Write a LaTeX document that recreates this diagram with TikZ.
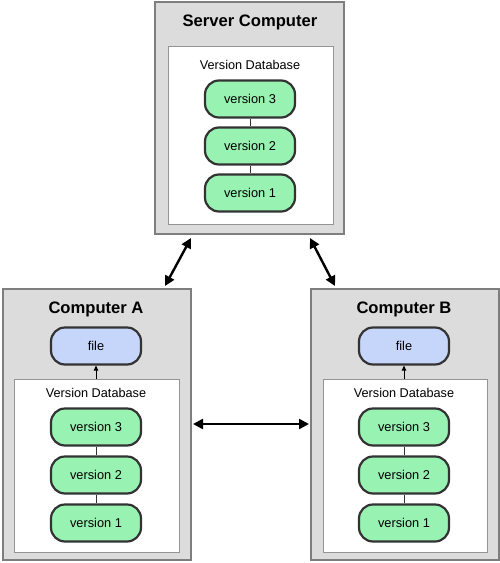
\documentclass[tikz,border=0pt]{standalone}
\usepackage{fontspec}
\setmainfont{Liberation Sans}
\usetikzlibrary{arrows.meta}
\definecolor{outerfill}{HTML}{DCDCDC}
\definecolor{outerline}{HTML}{7E7E7E}
\definecolor{innerline}{HTML}{949494}
\definecolor{pillgreen}{HTML}{98F2B2}
\definecolor{pillblue}{HTML}{C6D6FA}
\definecolor{pillline}{HTML}{333333}
\tikzset{
  outerbox/.style={draw=outerline, fill=outerfill, line width=1.3pt},
  innerbox/.style={draw=innerline, fill=white, line width=0.8pt},
  pill/.style={draw=pillline, line width=2.2pt, rounded corners=14pt, minimum width=90pt, minimum height=37pt, inner sep=0pt, font=\fontsize{12.8}{15}\selectfont},
  verpill/.style={pill, fill=pillgreen},
  filepill/.style={pill, fill=pillblue},
  title/.style={font=\fontsize{16.6}{19}\selectfont\bfseries},
  dblabel/.style={font=\fontsize{12.7}{15}\selectfont},
  link/.style={draw=pillline, line width=0.8pt},
  bigarrow/.style={line width=2.4pt, {Triangle[length=10pt,width=10pt]}-{Triangle[length=10pt,width=10pt]}},
  smallarrow/.style={line width=0.8pt, -{Triangle[length=5pt,width=4.5pt]}}
}
\begin{document}
\begin{tikzpicture}[x=1pt,y=-1pt]
\useasboundingbox (0,0) rectangle (500,563);
% Server
\node[outerbox, minimum width=189pt, minimum height=232pt, inner sep=0pt] (srv) at (249.5,118) {};
\node[innerbox, minimum width=165pt, minimum height=178pt, inner sep=0pt] (srvdb) at (250.5,135) {};
\node[title] (srvt) at (250,22) {Server Computer};
\node[dblabel] (srvdbl) at (250,65) {Version Database};
\node[verpill] (s3) at (250,99) {version 3};
\node[verpill] (s2) at (250,146) {version 2};
\node[verpill] (s1) at (250,193) {version 1};
\draw[link] (s3) -- (s2);
\draw[link] (s2) -- (s1);
% Computer A
\node[outerbox, minimum width=188pt, minimum height=271pt, inner sep=0pt] (ca) at (97,424.5) {};
\node[innerbox, minimum width=165pt, minimum height=173pt, inner sep=0pt] (cadb) at (96.5,465.5) {};
\node[title] (cat) at (96,309) {Computer A};
\node[filepill] (caf) at (96,346) {file};
\node[dblabel] (cadbl) at (96,393) {Version Database};
\node[verpill] (a3) at (96,427) {version 3};
\node[verpill] (a2) at (96,475) {version 2};
\node[verpill] (a1) at (96,523) {version 1};
\draw[link] (a3) -- (a2);
\draw[link] (a2) -- (a1);
\draw[smallarrow] (cadb.north -| caf.south) -- (caf.south);
% Computer B
\node[outerbox, minimum width=188pt, minimum height=271pt, inner sep=0pt] (cb) at (405,424.5) {};
\node[innerbox, minimum width=164pt, minimum height=173pt, inner sep=0pt] (cbdb) at (405,465.5) {};
\node[title] (cbt) at (404,309) {Computer B};
\node[filepill] (cbf) at (404,346) {file};
\node[dblabel] (cbdbl) at (404,393) {Version Database};
\node[verpill] (b3) at (404,427) {version 3};
\node[verpill] (b2) at (404,475) {version 2};
\node[verpill] (b1) at (404,523) {version 1};
\draw[link] (b3) -- (b2);
\draw[link] (b2) -- (b1);
\draw[smallarrow] (cbdb.north -| cbf.south) -- (cbf.south);
% Arrows
\coordinate (sa1) at (191,238);
\coordinate (sa2) at (165,286);
\coordinate (sb1) at (310,238);
\coordinate (sb2) at (335,286);
\coordinate (h1) at (193,424);
\coordinate (h2) at (309,424);
\draw[bigarrow] (sa1) -- (sa2);
\draw[bigarrow] (sb1) -- (sb2);
\draw[bigarrow] (h1) -- (h2);
\end{tikzpicture}
\end{document}
